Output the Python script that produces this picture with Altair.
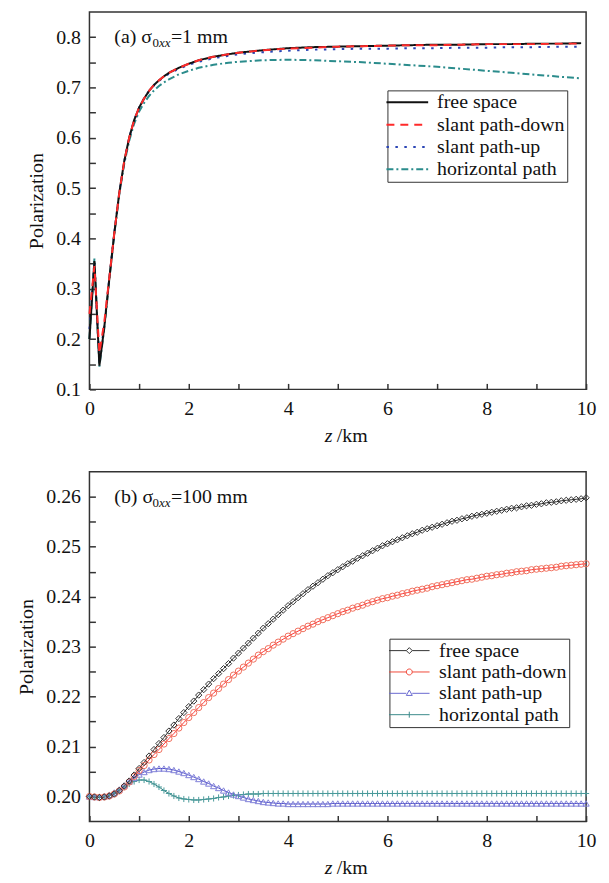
import altair as alt
import pandas as pd

FONT = "Liberation Serif"
FS = 20
SERIES = ["free space", "slant path-down", "slant path-up", "horizontal path"]

# ---------------- panel (a): sigma_0xx = 1 mm ----------------
z_a = [0, 0.1, 0.2, 0.3, 0.4, 0.5, 0.6, 0.7, 0.8, 0.9, 1.0, 1.1, 1.2, 1.3, 1.4, 1.5, 1.6,
       1.8, 2.0, 2.2, 2.5, 2.8, 3.0, 3.5, 4.0, 4.5, 5.0, 5.5, 6.0, 6.5, 7.0, 7.5, 8.0,
       8.5, 9.0, 9.5, 9.9]
a_free = [0.200, 0.355, 0.147, 0.225, 0.320, 0.410, 0.490, 0.553, 0.600, 0.635, 0.660,
          0.678, 0.693, 0.705, 0.714, 0.722, 0.729, 0.739, 0.747, 0.754, 0.761, 0.766,
          0.769, 0.774, 0.778, 0.780, 0.781, 0.782, 0.783, 0.784, 0.785, 0.785, 0.786,
          0.786, 0.787, 0.787, 0.788]
a_down = [0.250, 0.345, 0.172, 0.235, 0.322, 0.410, 0.490, 0.553, 0.600, 0.635, 0.660,
          0.678, 0.693, 0.705, 0.714, 0.722, 0.729, 0.739, 0.747, 0.754, 0.761, 0.766,
          0.769, 0.774, 0.777, 0.779, 0.781, 0.782, 0.783, 0.784, 0.784, 0.785, 0.786,
          0.786, 0.786, 0.787, 0.787]
a_up = [0.220, 0.350, 0.155, 0.228, 0.321, 0.410, 0.490, 0.553, 0.600, 0.635, 0.660,
        0.678, 0.693, 0.704, 0.713, 0.721, 0.727, 0.737, 0.745, 0.751, 0.758, 0.763,
        0.766, 0.770, 0.773, 0.775, 0.776, 0.777, 0.777, 0.778, 0.778, 0.779, 0.779,
        0.780, 0.780, 0.781, 0.781]
a_horiz = [0.200, 0.360, 0.145, 0.222, 0.318, 0.408, 0.487, 0.548, 0.594, 0.628, 0.652,
           0.669, 0.683, 0.694, 0.703, 0.710, 0.716, 0.726, 0.733, 0.739, 0.745, 0.749,
           0.751, 0.754, 0.755, 0.754, 0.752, 0.750, 0.747, 0.744, 0.741, 0.737, 0.733,
           0.729, 0.725, 0.721, 0.718]

# ---------------- panel (b): sigma_0xx = 100 mm ----------------
z_b = [i / 10 for i in range(101)]
b_free = [0.2000, 0.1999, 0.1998, 0.1999, 0.2001, 0.2005, 0.2012, 0.2021, 0.2031, 0.2043,
          0.2056, 0.2068, 0.2081, 0.2094, 0.2106, 0.2118, 0.2131, 0.2143, 0.2156, 0.2168,
          0.2180, 0.2191, 0.2203, 0.2214, 0.2225, 0.2236, 0.2246, 0.2256, 0.2266, 0.2277,
          0.2287, 0.2297, 0.2307, 0.2317, 0.2327, 0.2337, 0.2346, 0.2355, 0.2364, 0.2373,
          0.2382, 0.2390, 0.2398, 0.2406, 0.2414, 0.2421, 0.2428, 0.2435, 0.2442, 0.2448,
          0.2454, 0.2460, 0.2466, 0.2471, 0.2477, 0.2482, 0.2487, 0.2492, 0.2497, 0.2502,
          0.2506, 0.2510, 0.2514, 0.2518, 0.2522, 0.2526, 0.2529, 0.2533, 0.2536, 0.2539,
          0.2542, 0.2545, 0.2548, 0.2551, 0.2553, 0.2556, 0.2558, 0.2561, 0.2563, 0.2565,
          0.2567, 0.2569, 0.2571, 0.2573, 0.2575, 0.2577, 0.2578, 0.2580, 0.2582, 0.2583,
          0.2585, 0.2586, 0.2588, 0.2589, 0.2590, 0.2592, 0.2593, 0.2594, 0.2595, 0.2596,
          0.2598]
b_down = [0.2000, 0.1999, 0.1998, 0.1999, 0.2001, 0.2005, 0.2011, 0.2019, 0.2029, 0.2040,
          0.2052, 0.2062, 0.2073, 0.2084, 0.2094, 0.2105, 0.2116, 0.2126, 0.2137, 0.2148,
          0.2158, 0.2168, 0.2178, 0.2188, 0.2198, 0.2207, 0.2216, 0.2225, 0.2234, 0.2243,
          0.2251, 0.2259, 0.2267, 0.2275, 0.2283, 0.2290, 0.2296, 0.2303, 0.2309, 0.2315,
          0.2321, 0.2326, 0.2331, 0.2336, 0.2341, 0.2345, 0.2350, 0.2354, 0.2358, 0.2362,
          0.2366, 0.2370, 0.2373, 0.2377, 0.2380, 0.2383, 0.2387, 0.2390, 0.2393, 0.2396,
          0.2398, 0.2401, 0.2403, 0.2406, 0.2408, 0.2411, 0.2413, 0.2415, 0.2417, 0.2420,
          0.2422, 0.2424, 0.2426, 0.2428, 0.2430, 0.2432, 0.2434, 0.2435, 0.2437, 0.2439,
          0.2441, 0.2442, 0.2444, 0.2445, 0.2447, 0.2448, 0.2450, 0.2451, 0.2452, 0.2454,
          0.2455, 0.2456, 0.2457, 0.2458, 0.2459, 0.2461, 0.2462, 0.2463, 0.2464, 0.2465,
          0.2466]
b_up = [0.2000, 0.1999, 0.1999, 0.2000, 0.2003, 0.2008, 0.2014, 0.2022, 0.2030, 0.2037,
        0.2044, 0.2049, 0.2053, 0.2055, 0.2056, 0.2056, 0.2055, 0.2053, 0.2050, 0.2047,
        0.2043, 0.2039, 0.2035, 0.2030, 0.2026, 0.2021, 0.2017, 0.2012, 0.2008, 0.2004,
        0.2001, 0.1998, 0.1995, 0.1993, 0.1991, 0.1989, 0.1988, 0.1987, 0.1986, 0.1986,
        0.1985, 0.1985, 0.1985, 0.1985, 0.1985, 0.1985, 0.1985, 0.1985, 0.1985, 0.1986,
        0.1986, 0.1986, 0.1986, 0.1986, 0.1986, 0.1986, 0.1986, 0.1986, 0.1986, 0.1986,
        0.1986, 0.1986, 0.1986, 0.1986, 0.1986, 0.1986, 0.1986, 0.1986, 0.1986, 0.1986,
        0.1986, 0.1986, 0.1986, 0.1986, 0.1986, 0.1986, 0.1986, 0.1986, 0.1986, 0.1986,
        0.1986, 0.1986, 0.1986, 0.1986, 0.1986, 0.1986, 0.1986, 0.1986, 0.1986, 0.1986,
        0.1986, 0.1986, 0.1986, 0.1986, 0.1986, 0.1986, 0.1986, 0.1986, 0.1986, 0.1986,
        0.1986]
b_horiz = [0.2000, 0.1999, 0.1999, 0.2000, 0.2003, 0.2007, 0.2013, 0.2019, 0.2025, 0.2030,
           0.2033, 0.2033, 0.2030, 0.2025, 0.2019, 0.2012, 0.2006, 0.2001, 0.1997, 0.1995,
           0.1994, 0.1993, 0.1993, 0.1994, 0.1995, 0.1996, 0.1998, 0.1999, 0.2001, 0.2002,
           0.2003, 0.2004, 0.2005, 0.2005, 0.2005, 0.2006, 0.2006, 0.2006, 0.2006, 0.2006,
           0.2006, 0.2006, 0.2006, 0.2006, 0.2006, 0.2006, 0.2006, 0.2006, 0.2006, 0.2006,
           0.2006, 0.2006, 0.2006, 0.2006, 0.2006, 0.2006, 0.2006, 0.2006, 0.2006, 0.2006,
           0.2006, 0.2006, 0.2006, 0.2006, 0.2006, 0.2006, 0.2006, 0.2006, 0.2006, 0.2006,
           0.2006, 0.2006, 0.2006, 0.2006, 0.2006, 0.2006, 0.2006, 0.2006, 0.2006, 0.2006,
           0.2006, 0.2006, 0.2006, 0.2006, 0.2006, 0.2006, 0.2006, 0.2006, 0.2006, 0.2006,
           0.2006, 0.2006, 0.2006, 0.2006, 0.2006, 0.2006, 0.2006, 0.2006, 0.2006, 0.2006,
           0.2006]

X_TICKS = [0, 1, 2, 3, 4, 5, 6, 7, 8, 9, 10]
Y_TICKS_A = [0.10, 0.15, 0.20, 0.25, 0.30, 0.35, 0.40, 0.45, 0.50, 0.55, 0.60, 0.65,
             0.70, 0.75, 0.80]
Y_TICKS_B = [0.200, 0.205, 0.210, 0.215, 0.220, 0.225, 0.230, 0.235, 0.240, 0.245,
             0.250, 0.255, 0.260]

W = 500
H_A = 380
H_B = 352


def long_df(z, cols):
    rows = []
    for name, vals in cols:
        for zz, v in zip(z, vals):
            rows.append({"z": zz, "P": v, "series": name})
    return pd.DataFrame(rows)


df_a = long_df(z_a, [("horizontal path", a_horiz), ("slant path-up", a_up),
                     ("free space", a_free), ("slant path-down", a_down)])
df_b = long_df(z_b, [("horizontal path", b_horiz), ("slant path-up", b_up),
                     ("slant path-down", b_down), ("free space", b_free)])

AX = dict(domain=False, grid=False, tickSize=6, offset=-6, tickColor="#333",
          tickWidth=1.5, labelFont=FONT, labelFontSize=FS, labelColor="#111",
          labelFlush=False, labelOverlap=False)


def x_enc():
    return alt.X("z:Q", scale=alt.Scale(domain=[0, 10], nice=False, zero=False),
                 axis=alt.Axis(values=X_TICKS, title=None, labelPadding=9,
                               labelExpr="datum.value % 2 == 0 ? datum.label : ''", **AX))


def y_enc(domain, ticks, expr):
    return alt.Y("P:Q", scale=alt.Scale(domain=domain, nice=False, zero=False),
                 axis=alt.Axis(values=ticks, title="Polarization", labelPadding=9,
                               labelExpr=expr, titleFont=FONT, titleFontSize=FS,
                               titleFontWeight="normal", titleColor="#111",
                               titlePadding=9, **AX))


def txt(s, x, y, size=FS, style="normal"):
    return alt.Chart(pd.DataFrame({"t": [s]})).mark_text(
        align="left", baseline="alphabetic", font=FONT, fontSize=size,
        fontStyle=style, color="#111").encode(
        text="t:N", x=alt.value(x), y=alt.value(y))


def labels(tag, val, h):
    return [txt(tag + " σ", 25, 31), txt("0", 63.5, 35, 13), txt("xx", 70, 35, 13, "italic"),
            txt("=" + val, 82, 31),
            txt("z", 237, h + 53, FS, "italic"), txt("/km", 249, h + 53)]


# ---- top panel ----
leg_a = alt.Legend(title=None, orient="none", legendX=300, legendY=79,
                   symbolType="M-7,0L7,0", symbolSize=36, symbolStrokeWidth=2,
                   symbolOffset=8, labelOffset=20, labelFont=FONT, labelFontSize=FS,
                   labelColor="#111", strokeColor="#333", padding=2, rowPadding=2.5,
                   fillColor="white")
lines_a = alt.Chart(df_a).mark_line(strokeWidth=2).encode(
    x=x_enc(),
    y=y_enc([0.1, 0.85], Y_TICKS_A,
            "round(datum.value*20) % 2 == 0 ? format(datum.value, '.1f') : ''"),
    color=alt.Color("series:N", sort=SERIES,
                    scale=alt.Scale(domain=SERIES,
                                    range=["#111111", "#ff2a2a", "#2b45b5", "#2b8c8c"]),
                    legend=leg_a),
    strokeDash=alt.StrokeDash("series:N", sort=SERIES,
                              scale=alt.Scale(domain=SERIES,
                                              range=[[1, 0], [8, 6], [2.5, 6.5], [7, 3, 2, 3]]),
                              legend=leg_a),
)
top = alt.layer(lines_a, *labels("(a)", "1 mm", H_A)).properties(width=W, height=H_A)

# ---- bottom panel ----
PLUS = "M-1,0L1,0M0,-1L0,1"
LEG_PATHS = [
    "M-6.8,0L-1,0M1,0L6.8,0M0,-1L1,0L0,1L-1,0Z",
    "M-6.8,0L-1,0M1,0L6.8,0M1,0A1,1,0,1,1,-1,0A1,1,0,1,1,1,0",
    "M-6.8,0L-1,0M1,0L6.8,0M0,-1.1L1,0.7L-1,0.7Z",
    "M-6.8,0L6.8,0M0,-1L0,1",
]
yb = y_enc([0.195, 0.265], Y_TICKS_B,
           "round(datum.value*200) % 2 == 0 ? format(datum.value, '.2f') : ''")

lines_b = alt.Chart(df_b).mark_line(strokeWidth=1).encode(
    x=x_enc(), y=yb,
    color=alt.Color("series:N", scale=alt.Scale(
        domain=SERIES, range=["#222222", "#ff3030", "#4a4ac8", "#2a7f7f"]), legend=None),
)
points_b = alt.Chart(df_b).mark_point(filled=False, strokeWidth=1, opacity=1).encode(
    x=x_enc(), y=yb,
    color=alt.Color("series:N", scale=alt.Scale(
        domain=SERIES, range=["#333333", "#f0705e", "#8080d8", "#4a9a9a"]), legend=None),
    shape=alt.Shape("series:N", scale=alt.Scale(
        domain=SERIES, range=["diamond", "circle", "triangle-up", PLUS]), legend=None),
    size=alt.Size("series:N", scale=alt.Scale(domain=SERIES, range=[40, 38, 40, 40]),
                  legend=None),
)
leg_b = alt.Legend(title=None, orient="none", legendX=302, legendY=168,
                   symbolSize=36, symbolStrokeWidth=1, symbolOffset=8, labelOffset=20,
                   labelFont=FONT, labelFontSize=FS, labelColor="#111",
                   strokeColor="#333", padding=2, rowPadding=1.5, fillColor="white")
legend_layer_b = alt.Chart(df_b).transform_filter("datum.z < 0").mark_point(
    filled=False, strokeWidth=1, opacity=1, size=36).encode(
    x=x_enc(), y=yb,
    color=alt.Color("series:N", sort=SERIES, scale=alt.Scale(
        domain=SERIES, range=["#333333", "#f04a3a", "#6a6ad0", "#3a8a8a"]), legend=leg_b),
    shape=alt.Shape("series:N", sort=SERIES, scale=alt.Scale(
        domain=SERIES, range=LEG_PATHS), legend=leg_b),
)
bottom = alt.layer(lines_b, points_b, legend_layer_b, *labels("(b)", "100 mm", H_B)).resolve_scale(
    color="independent", shape="independent", size="independent").properties(width=W, height=H_B)

chart = alt.vconcat(top, bottom, spacing=24).properties(
    padding={"left": 8, "right": 4, "top": 0, "bottom": 0}, background="white"
).configure_view(stroke="#333", strokeWidth=1.5)

chart.save("out.html", embed_options={"renderer": "svg", "actions": False})
